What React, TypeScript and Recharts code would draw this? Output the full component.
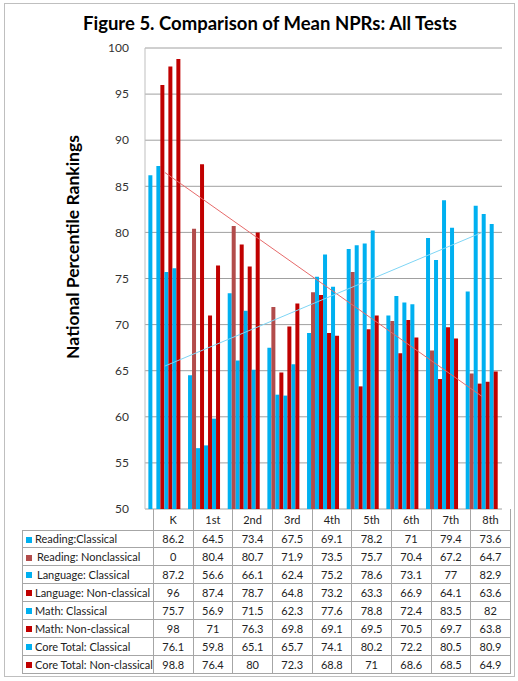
import { ComposedChart, Bar, Line, XAxis, YAxis, CartesianGrid } from 'recharts';

const grades = ['K', '1st', '2nd', '3rd', '4th', '5th', '6th', '7th', '8th'];

const readingClassical = [86.2, 64.5, 73.4, 67.5, 69.1, 78.2, 71, 79.4, 73.6];
const readingNonclassical = [0, 80.4, 80.7, 71.9, 73.5, 75.7, 70.4, 67.2, 64.7];
const languageClassical = [87.2, 56.6, 66.1, 62.4, 75.2, 78.6, 73.1, 77, 82.9];
const languageNonclassical = [96, 87.4, 78.7, 64.8, 73.2, 63.3, 66.9, 64.1, 63.6];
const mathClassical = [75.7, 56.9, 71.5, 62.3, 77.6, 78.8, 72.4, 83.5, 82];
const mathNonclassical = [98, 71, 76.3, 69.8, 69.1, 69.5, 70.5, 69.7, 63.8];
const coreClassical = [76.1, 59.8, 65.1, 65.7, 74.1, 80.2, 72.2, 80.5, 80.9];
const coreNonclassical = [98.8, 76.4, 80, 72.3, 68.8, 71, 68.6, 68.5, 64.9];

// linear trend lines (start at K, end at 8th)
const trendCoreNonclassical = [86.5, null, null, null, null, null, null, null, 62.2];
const trendCoreClassical = [65.5, null, null, null, null, null, null, null, 80.0];

const yTicks = [50, 55, 60, 65, 70, 75, 80, 85, 90, 95, 100];

const BLUE = '#00B0F0';
const BROWN = '#B24C4B';
const RED = '#C00000';

const series = [
  { key: 'rc', label: 'Reading:Classical', values: readingClassical, color: BLUE, indent: false },
  { key: 'rn', label: 'Reading: Nonclassical', values: readingNonclassical, color: BROWN, indent: true },
  { key: 'lc', label: 'Language: Classical', values: languageClassical, color: BLUE, indent: true },
  { key: 'ln', label: 'Language: Non-classical', values: languageNonclassical, color: RED, indent: false },
  { key: 'mc', label: 'Math: Classical', values: mathClassical, color: BLUE, indent: false },
  { key: 'mn', label: 'Math: Non-classical', values: mathNonclassical, color: RED, indent: false },
  { key: 'cc', label: 'Core Total: Classical', values: coreClassical, color: BLUE, indent: false },
  { key: 'cn', label: 'Core Total: Non-classical', values: coreNonclassical, color: RED, indent: false },
];

const chartData = grades.map((g, i) => {
  const row: any = { grade: g, trendN: trendCoreNonclassical[i], trendC: trendCoreClassical[i] };
  series.forEach((s) => {
    row[s.key] = s.values[i];
  });
  return row;
});

const FONT = 'Lato, "Open Sans", sans-serif';
const BORDER = '1px solid #A6A6A6';

export default function App() {
  return (
    <div
      style={{
        position: 'absolute',
        left: 0,
        top: 0,
        width: 518,
        height: 681,
        background: '#fff',
        fontFamily: FONT,
      }}
    >
      <div
        style={{
          position: 'absolute',
          left: 4,
          top: 3,
          width: 509,
          height: 672,
          border: '1px solid #BFBFBF',
        }}
      />
      <div
        style={{
          position: 'absolute',
          left: 0,
          top: 12,
          width: 540,
          textAlign: 'center',
          fontSize: 18.5,
          fontWeight: 700,
          color: '#000',
        }}
      >
        Figure 5. Comparison of Mean NPRs: All Tests
      </div>
      <div
        style={{
          position: 'absolute',
          left: 72,
          top: 247,
          transform: 'translate(-50%, -50%) rotate(-90deg)',
          whiteSpace: 'nowrap',
          fontSize: 17.5,
          fontWeight: 700,
          color: '#000',
        }}
      >
        National Percentile Rankings
      </div>

      <div style={{ position: 'absolute', left: 0, top: 0 }}>
        <ComposedChart
          width={518}
          height={681}
          data={chartData}
          margin={{ top: 48, right: 16, bottom: 172, left: 0 }}
          barCategoryGap="8.5%"
          barGap={0}
        >
          <CartesianGrid vertical={false} stroke="#A0A0A0" />
          <XAxis dataKey="grade" tick={false} tickLine={false} axisLine={{ stroke: '#A6A6A6' }} height={0} />
          <YAxis
            domain={[50, 100]}
            ticks={yTicks}
            allowDataOverflow
            width={145}
            tickLine={false}
            axisLine={{ stroke: '#BFBFBF' }}
            tick={{ fontSize: 12, fill: '#333', fontFamily: FONT }}
            tickMargin={10}
          />
          {series.map((s) => (
            <Bar key={s.key} dataKey={s.key} fill={s.color} isAnimationActive={false} />
          ))}
          <Line
            dataKey="trendN"
            stroke="#E66A6A"
            strokeWidth={1}
            dot={false}
            connectNulls
            isAnimationActive={false}
          />
          <Line
            dataKey="trendC"
            stroke="#7ED5F5"
            strokeWidth={1}
            dot={false}
            connectNulls
            isAnimationActive={false}
          />
        </ComposedChart>
      </div>

      <table
        style={{
          position: 'absolute',
          left: 22,
          top: 509,
          borderCollapse: 'collapse',
          tableLayout: 'fixed',
          fontSize: 11,
          color: '#222',
          fontFamily: FONT,
        }}
      >
        <colgroup>
          <col style={{ width: 123 }} />
          {grades.map((g) => (
            <col key={g} style={{ width: 39.67 }} />
          ))}
        </colgroup>
        <tbody>
          <tr style={{ height: 21 }}>
            <td style={{ padding: 0 }} />
            {grades.map((g) => (
              <td key={g} style={{ border: BORDER, borderTop: 'none', textAlign: 'center', padding: 0 }}>
                {g}
              </td>
            ))}
          </tr>
          {series.map((s) => (
            <tr key={s.key} style={{ height: 17.9 }}>
              <td
                style={{
                  border: BORDER,
                  padding: '0 0 0 3px',
                  whiteSpace: 'nowrap',
                  overflow: 'hidden',
                }}
              >
                <span
                  style={{
                    display: 'inline-block',
                    width: 6,
                    height: 6,
                    background: s.color,
                    marginRight: s.indent ? 5 : 3,
                    verticalAlign: 'middle',
                    position: 'relative',
                    top: -1,
                  }}
                />
                {s.label}
              </td>
              {s.values.map((v, i) => (
                <td key={i} style={{ border: BORDER, textAlign: 'center', padding: 0 }}>
                  {v}
                </td>
              ))}
            </tr>
          ))}
        </tbody>
      </table>
    </div>
  );
}
